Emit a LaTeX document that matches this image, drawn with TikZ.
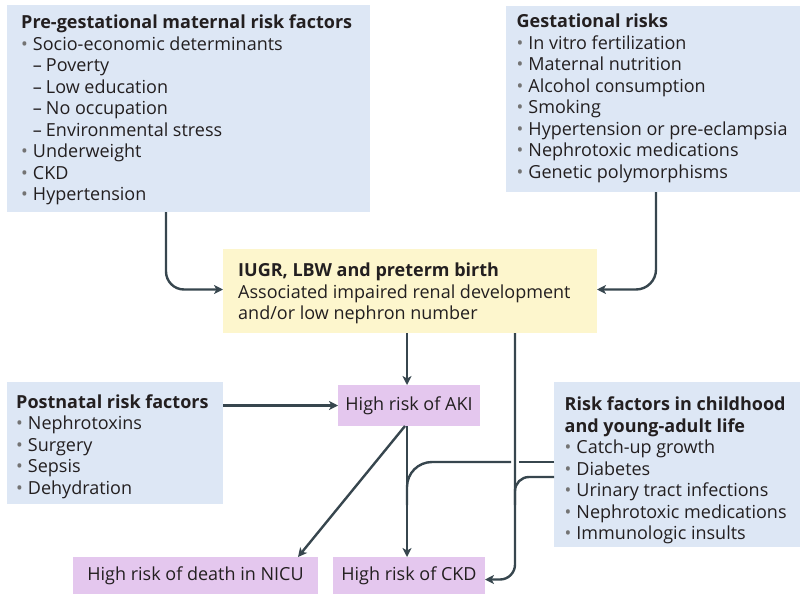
\documentclass[tikz,border=0pt]{standalone}
\usepackage{fontspec}
\setmainfont{Open Sans}
\usetikzlibrary{arrows.meta}
\definecolor{bluebox}{RGB}{221,231,245}
\definecolor{yelbox}{RGB}{253,246,205}
\definecolor{purbox}{RGB}{228,199,238}
\definecolor{linec}{RGB}{55,70,78}
\definecolor{txt}{RGB}{35,31,32}
\definecolor{bgray}{RGB}{115,115,115}
\newcommand\bu{{\color{bgray}\textbullet}\hspace{5pt}}
\newcommand\da{\phantom{\textbullet}\hspace*{5pt}–\hspace{4pt}}
\begin{document}
\begin{tikzpicture}[x=1pt,y=-1pt,
  boxn/.style={inner sep=0pt, outer sep=0pt, anchor=north west},
  txtn/.style={inner sep=0pt, anchor=north west, align=left, font=\fontsize{18}{21.5}\selectfont, text=txt},
  resbox/.style={fill=purbox, inner sep=0pt, outer sep=0pt, anchor=north west, font=\fontsize{18}{21.6}\selectfont, text=txt},
  arr/.style={draw=linec, line width=2.4pt, -{Stealth[length=9pt,width=9pt,inset=2.5pt]}},
  ln/.style={draw=linec, line width=2.4pt}]
\useasboundingbox (0,0) rectangle (800,594);
% boxes
\node[boxn, fill=bluebox, minimum width=363pt, minimum height=207pt] (b1) at (7,5) {};
\node[boxn, fill=bluebox, minimum width=294pt, minimum height=186pt] (b2) at (506,6) {};
\node[boxn, fill=yelbox, minimum width=374pt, minimum height=84pt] (yel) at (223,249) {};
\node[boxn, fill=bluebox, minimum width=216pt, minimum height=122pt] (post) at (7,382) {};
\node[boxn, fill=bluebox, minimum width=246pt, minimum height=165pt] (right) at (554,382) {};
\node[resbox, minimum width=142pt, minimum height=41pt] (aki) at (338,385) {High risk of AKI};
\node[resbox, minimum width=245pt, minimum height=37pt] (nicu) at (73,557) {High risk of death in NICU};
\node[resbox, minimum width=152pt, minimum height=37pt] (ckd) at (333,557) {High risk of CKD};
% texts
\node[txtn] (t1) at (21,15) {\textbf{Pre-gestational maternal risk factors}\\
\bu Socio-economic determinants\\
\da Poverty\\
\da Low education\\
\da No occupation\\
\da Environmental stress\\
\bu Underweight\\
\bu CKD\\
\bu Hypertension};
\node[txtn] (t2) at (516.5,14) {\textbf{Gestational risks}\\
\bu In vitro fertilization\\
\bu Maternal nutrition\\
\bu Alcohol consumption\\
\bu Smoking\\
\bu Hypertension or pre-eclampsia\\
\bu Nephrotoxic medications\\
\bu Genetic polymorphisms};
\node[txtn] (t3) at (238,263) {\textbf{IUGR, LBW and preterm birth}\\
Associated impaired renal development\\
and/or low nephron number};
\node[txtn] (t4) at (16,394.5) {\textbf{Postnatal risk factors}\\
\bu Nephrotoxins\\
\bu Surgery\\
\bu Sepsis\\
\bu Dehydration};
\node[txtn] (t5) at (564.5,397) {\textbf{Risk factors in childhood}\\
\textbf{and young-adult life}\\
\bu Catch-up growth\\
\bu Diabetes\\
\bu Urinary tract infections\\
\bu Nephrotoxic medications\\
\bu Immunologic insults};
% connectors
\draw[arr, rounded corners=18pt] (166,0 |- b1.south) |- ([yshift=1.5pt]yel.west);
\draw[arr, rounded corners=20pt] (656,0 |- b2.south) |- ([yshift=1.5pt]yel.east);
\draw[arr] (407,0 |- yel.south) -- (407,0 |- aki.north);
\draw[arr] (post.east |- aki.west) -- (aki.west);
\draw[ln] (right.west |- 0,462) -- (519,462);
\draw[ln, rounded corners=25pt] (511,462) -| (407,505);
\draw[ln, rounded corners=14pt] (right.west |- 0,477) -| (515,505);
\draw[arr] (407,0 |- aki.south) -- (407,0 |- ckd.north);
\draw[arr] (405,0 |- aki.south) -- (298,0 |- nicu.north);
\draw[arr, rounded corners=15pt] (515,0 |- yel.south) |- ([yshift=-4pt]ckd.east);
\end{tikzpicture}
\end{document}
